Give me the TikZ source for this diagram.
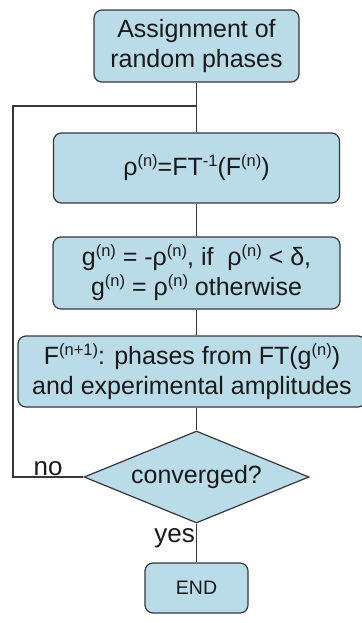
\documentclass[tikz,border=0pt]{standalone}
\usepackage{fontspec}
\setmainfont{Liberation Sans}
\usetikzlibrary{shapes.geometric}
\definecolor{boxfill}{RGB}{186,220,232}
\definecolor{edgecol}{RGB}{55,55,55}
\definecolor{txtcol}{RGB}{25,25,25}
\newcommand{\sps}[1]{\raisebox{0.36em}{\fontsize{16.5}{16.5}\selectfont #1}}
\tikzset{
  flowbox/.style={draw=edgecol, fill=boxfill, rounded corners=8pt, line width=1.2pt,
    font=\fontsize{25}{30}\selectfont, text=txtcol, align=center, inner sep=0pt},
  decide/.style={diamond, draw=edgecol, fill=boxfill, line width=1.2pt, aspect=2.45,
    minimum width=225pt, minimum height=92pt, inner sep=0pt,
    font=\fontsize{25}{30}\selectfont, text=txtcol},
  link/.style={draw=edgecol, line width=1.2pt},
  lbl/.style={font=\fontsize{26}{30}\selectfont, text=txtcol, inner sep=1pt}
}
\begin{document}
\begin{tikzpicture}[x=1pt,y=1pt]
\useasboundingbox (0,0) rectangle (361,-623);
\node[flowbox, minimum width=205pt, minimum height=72pt] (b1) at (196.5,-46) {Assignment of\\random phases};
\node[flowbox, minimum width=286pt, minimum height=70pt] (b2) at (196.5,-168) {ρ\sps{(n)}=FT\sps{-1}(F\sps{(n)})};
\node[flowbox, minimum width=287pt, minimum height=72pt] (b3) at (196.5,-273) {g\sps{(n)} = -ρ\sps{(n)}, if\ \ ρ\sps{(n)} < δ,\\g\sps{(n)} = ρ\sps{(n)} otherwise};
\node[flowbox, minimum width=348pt, minimum height=71pt] (b4) at (192,-371.5) {F\sps{(n+1)}: phases from FT(g\sps{(n)})\\and experimental amplitudes};
\node[decide] (dia) at (196.5,-477) {converged?};
\node[flowbox, minimum width=103pt, minimum height=50pt, font=\fontsize{19.5}{24}\selectfont] (end) at (196.5,-588) {END};
\coordinate (join) at (196.5,-106);
\coordinate (corner) at (13,-106);
\draw[link] (b1) -- (b2);
\draw[link] (b2) -- (b3);
\draw[link] (b3) -- (b4.north -| b3);
\draw[link] (b4.south -| dia) -- (dia);
\draw[link] (dia) -- node[lbl, left, pos=0.38] {yes} (end);
\draw[link] (dia.west) -- node[lbl, above, pos=0.5] {no} (dia.west -| corner) -- (corner) -- (join);
\end{tikzpicture}
\end{document}
